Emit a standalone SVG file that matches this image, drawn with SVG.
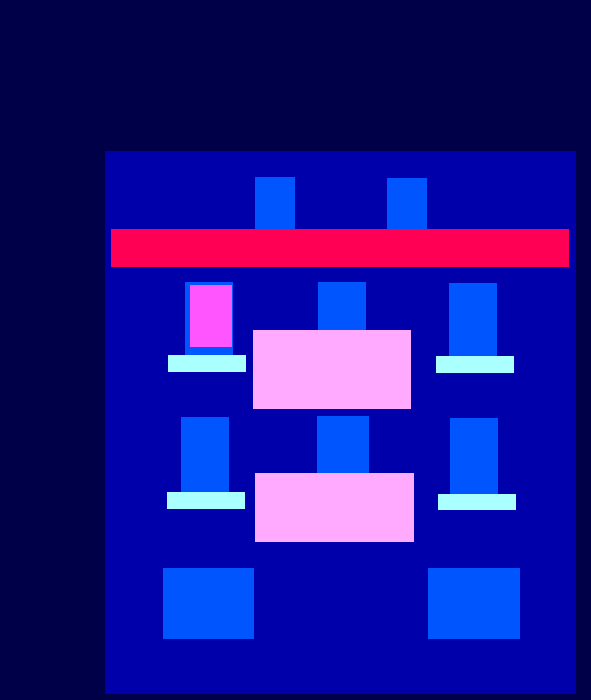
<svg xmlns="http://www.w3.org/2000/svg" width="591" height="700" viewBox="0 0 591 700">
<style>
.blue{fill:#0055ff}
.cyan{fill:#aaffff}
.pink{fill:#ffaaff}
</style>
<rect width="591" height="700" fill="#000048"/>
<rect x="105" y="151" width="471" height="543" fill="#0000aa"/>
<g id="top-left"><rect class="blue" x="255" y="177" width="40" height="53"/></g>
<g id="top-right"><rect class="blue" x="387" y="178" width="40" height="52"/></g>
<g id="bar"><rect x="111" y="229" width="458" height="38" fill="#ff0055"/></g>
<g id="r1-left">
<rect class="blue" x="185" y="282" width="48" height="74"/>
<rect x="190" y="285" width="42" height="62" fill="#ff55ff"/>
<rect class="cyan" x="168" y="355" width="78" height="17"/>
</g>
<g id="r1-mid">
<rect class="blue" x="318" y="282" width="48" height="49"/>
<rect class="pink" x="253" y="330" width="158" height="79"/>
</g>
<g id="r1-right">
<rect class="blue" x="449" y="283" width="48" height="74"/>
<rect class="cyan" x="436" y="356" width="78" height="17"/>
</g>
<g id="r2-left">
<rect class="blue" x="181" y="417" width="48" height="76"/>
<rect class="cyan" x="167" y="492" width="78" height="17"/>
</g>
<g id="r2-mid">
<rect class="blue" x="317" y="416" width="52" height="58"/>
<rect class="pink" x="255" y="473" width="159" height="69"/>
</g>
<g id="r2-right">
<rect class="blue" x="450" y="418" width="48" height="77"/>
<rect class="cyan" x="438" y="494" width="78" height="16"/>
</g>
<g id="b-left"><rect class="blue" x="163" y="568" width="91" height="71"/></g>
<g id="b-right"><rect class="blue" x="428" y="568" width="92" height="71"/></g>
<g id="connectors"/>
</svg>
